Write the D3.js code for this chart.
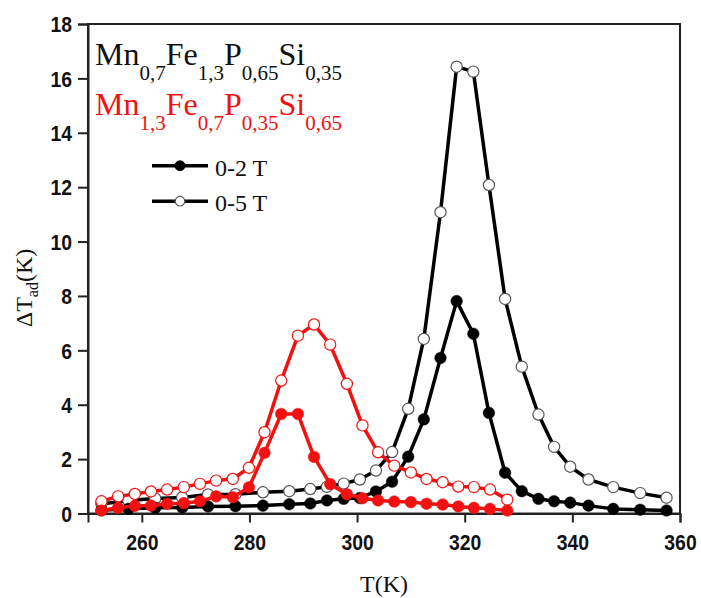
<!DOCTYPE html>
<html><head><meta charset="utf-8">
<script src="https://cdn.jsdelivr.net/npm/d3@7"></script>
<style>body{margin:0;background:#fff} svg{display:block}</style>
</head><body><svg id="c" width="701" height="598"></svg>
<script>
// ---- data ----
const blackTemps = [252.5, 257.5, 262.5, 267.5, 272.3, 277.4, 282.5, 287.4, 291.3, 294.4, 297.5, 300.5, 303.5, 306.5, 309.5, 312.4, 315.5, 318.5, 321.6, 324.5, 327.5, 330.6, 333.7, 336.6, 339.6, 343.0, 347.6, 352.6, 357.5];
const black05 = [0.35, 0.48, 0.55, 0.59, 0.70, 0.71, 0.78, 0.82, 0.90, 0.98, 1.10, 1.25, 1.58, 2.26, 3.85, 6.42, 11.08, 16.43, 16.25, 12.08, 7.89, 5.40, 3.64, 2.45, 1.72, 1.25, 0.97, 0.75, 0.58];
const black02 = [0.12, 0.17, 0.21, 0.22, 0.26, 0.27, 0.29, 0.34, 0.37, 0.48, 0.54, 0.57, 0.81, 1.17, 2.09, 3.46, 5.72, 7.81, 6.61, 3.70, 1.50, 0.82, 0.54, 0.45, 0.40, 0.29, 0.17, 0.14, 0.11];
const redTemps = [252.5, 255.6, 258.7, 261.7, 264.7, 267.8, 270.8, 273.8, 276.9, 279.9, 282.8, 285.9, 289.0, 292.0, 295.0, 298.1, 301.0, 303.9, 306.9, 310.0, 312.9, 315.9, 318.8, 321.7, 324.7, 327.9];
const red05 = [0.45, 0.63, 0.72, 0.81, 0.88, 0.97, 1.09, 1.21, 1.27, 1.68, 2.99, 4.89, 6.54, 6.95, 6.21, 4.77, 3.24, 2.25, 1.76, 1.51, 1.27, 1.15, 0.99, 0.97, 0.88, 0.51];
const red02 = [0.11, 0.21, 0.28, 0.29, 0.36, 0.38, 0.45, 0.63, 0.60, 0.96, 2.23, 3.66, 3.66, 2.08, 1.08, 0.71, 0.56, 0.48, 0.44, 0.42, 0.36, 0.33, 0.26, 0.21, 0.17, 0.11];
const xTicks = [260, 280, 300, 320, 340, 360];
const yTicks = [0, 2, 4, 6, 8, 10, 12, 14, 16, 18];
const formulaBlack = [["Mn",0],["0,7",1],["Fe",0],["1,3",1],["P",0],["0,65",1],["Si",0],["0,35",1]];
const formulaRed = [["Mn",0],["1,3",1],["Fe",0],["0,7",1],["P",0],["0,35",1],["Si",0],["0,65",1]];
const legendLabels = ["0-2 T", "0-5 T"];
const xLabel = "T(K)";

// ---- chart ----
const svg = d3.select("#c");
const RED = "#f21111";
const x = d3.scaleLinear().domain([250, 360]).range([88, 680]);
const y = d3.scaleLinear().domain([0, 18]).range([513.5, 24]);
const serif = "'Liberation Serif','Times New Roman',serif";
const sans = "'Liberation Sans',Arial,sans-serif";

// frame
svg.append("rect").attr("x", x(250)).attr("y", y(18)).attr("width", x(360) - x(250)).attr("height", y(0) - y(18))
  .attr("fill", "none").attr("stroke", "#222").attr("stroke-width", 2);

// x axis
const gx = svg.append("g").attr("transform", `translate(0,${y(0)})`);
gx.call(d3.axisBottom(x).tickValues(d3.range(255, 360, 10)).tickSize(5).tickFormat(""));
gx.call(d3.axisBottom(x).tickValues(xTicks).tickSize(9).tickFormat(d3.format("d")));
gx.selectAll(".domain").attr("stroke", "#222").attr("stroke-width", 2);
gx.selectAll(".tick line").attr("stroke", "#222").attr("stroke-width", 2);
gx.selectAll(".tick text").attr("y", 37).attr("dy", 0)
  .style("font-family", sans).style("font-weight", "bold").style("font-size", "22px").attr("fill", "#111")
  .attr("transform", "scale(0.88,1)");

// y axis
const gy = svg.append("g").attr("transform", `translate(${x(250)},0)`);
gy.call(d3.axisLeft(y).tickValues(d3.range(1, 18, 2)).tickSize(6).tickFormat(""));
gy.call(d3.axisLeft(y).tickValues(yTicks).tickSize(10).tickFormat(d3.format("d")));
gy.selectAll(".domain").attr("stroke", "#222").attr("stroke-width", 2);
gy.selectAll(".tick line").attr("stroke", "#222").attr("stroke-width", 2);
gy.selectAll(".tick text").attr("x", -16 / 0.88).attr("dy", "0.35em")
  .style("font-family", sans).style("font-weight", "bold").style("font-size", "22px").attr("fill", "#111")
  .attr("transform", "scale(0.88,1)");

// series
function drawSeries(temps, vals, color, open) {
  const pts = temps.map((t, i) => [t, vals[i]]);
  svg.append("path").datum(pts)
    .attr("d", d3.line().x(d => x(d[0])).y(d => y(d[1])))
    .attr("fill", "none").attr("stroke", color).attr("stroke-width", 3.5).attr("stroke-linejoin", "round");
  svg.append("g").selectAll("circle").data(pts).join("circle")
    .attr("cx", d => x(d[0])).attr("cy", d => y(d[1])).attr("r", open ? 5.6 : 5.8)
    .attr("fill", open ? "#fff" : color)
    .attr("stroke", open ? (color === RED ? RED : "#555") : color)
    .attr("stroke-width", open ? 1.2 : 0.5);
}
drawSeries(blackTemps, black05, "#000", true);
drawSeries(blackTemps, black02, "#000", false);
drawSeries(redTemps, red05, RED, true);
drawSeries(redTemps, red02, RED, false);

// formulas
function formula(parts, x0, yb, color) {
  const t = svg.append("text").attr("x", x0).attr("y", yb).attr("fill", color).style("font-family", serif);
  let prevSub = 0;
  parts.forEach(([s, sub]) => {
    t.append("tspan").text(s).style("font-size", sub ? "21px" : "32px")
      .attr("dy", sub === prevSub ? 0 : (sub ? 15 : -15));
    prevSub = sub;
  });
}
formula(formulaBlack, 95, 65, "#111");
formula(formulaRed, 95, 115, RED);

// legend
legendLabels.forEach((lab, i) => {
  const ly = 165.7 + i * 35.5;
  svg.append("line").attr("x1", 152).attr("x2", 208).attr("y1", ly).attr("y2", ly).attr("stroke", "#000").attr("stroke-width", 3.5);
  svg.append("circle").attr("cx", 180).attr("cy", ly).attr("r", 4.8)
    .attr("fill", i === 0 ? "#000" : "#fff").attr("stroke", i === 0 ? "#000" : "#555").attr("stroke-width", 1.2);
  svg.append("text").attr("x", 215).attr("y", ly + 10).text(lab)
    .style("font-family", serif).style("font-size", "24px").attr("fill", "#111");
});

// axis labels
svg.append("text").attr("x", 384).attr("y", 592).attr("text-anchor", "middle").text(xLabel)
  .style("font-family", serif).style("font-size", "24px").attr("fill", "#111");
const yl = svg.append("text").attr("transform", "translate(32,288) rotate(-90)").attr("text-anchor", "middle")
  .style("font-family", serif).attr("fill", "#111");
yl.append("tspan").text("ΔT").style("font-size", "24px");
yl.append("tspan").text("ad").style("font-size", "16px").attr("dy", 6);
yl.append("tspan").text("(K)").style("font-size", "24px").attr("dy", -6);
</script>
</body></html>
